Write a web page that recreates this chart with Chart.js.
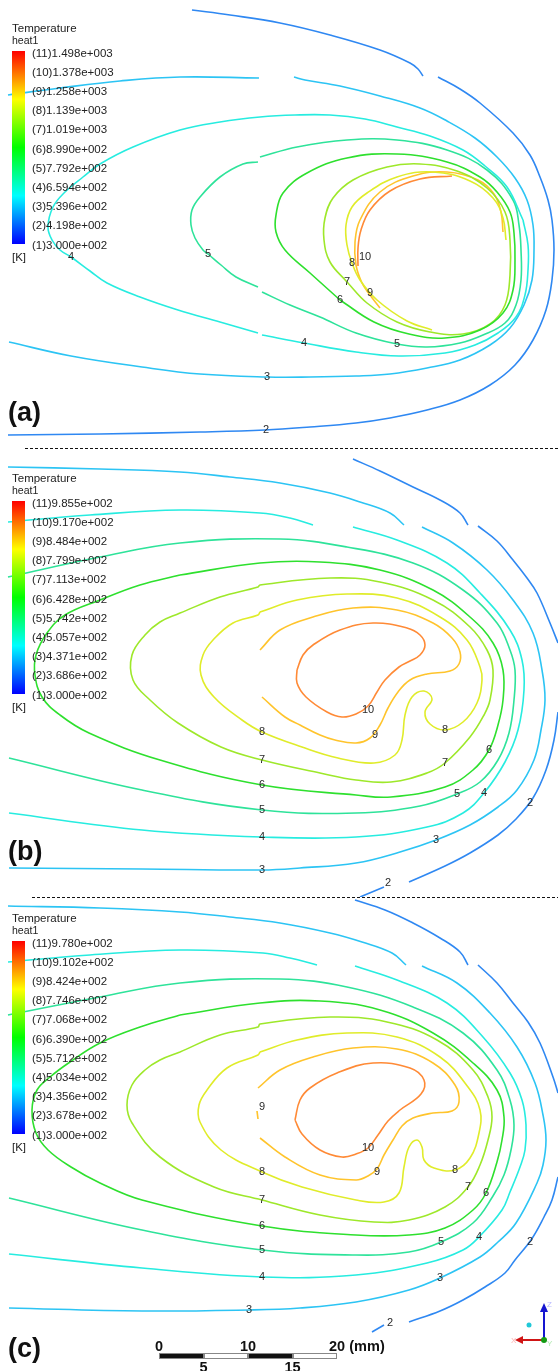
<!DOCTYPE html>
<html>
<head>
<meta charset="utf-8">
<script src="https://cdn.jsdelivr.net/npm/chart.js@4.4.1/dist/chart.umd.min.js"></script>
<style>
  body { margin: 0; background: #fff; }
  #page { position: relative; width: 558px; height: 1371px; overflow: hidden; font-family: "Liberation Sans", Arial, sans-serif; }
  canvas { position: absolute; left: 0; }
  .legend { position: absolute; left: 0; width: 180px; height: 270px; color: #222; }
  .legend div { position: absolute; white-space: nowrap; }
  .legend .t { left: 12px; top: 22px; font-size: 11.5px; line-height: 13px; }
  .legend .h { left: 12px; top: 34px; font-size: 10.5px; line-height: 12px; }
  .legend .bar { left: 12px; top: 51px; width: 13px; height: 193px;
    background: linear-gradient(to bottom, hsl(0,100%,50%), hsl(30,100%,50%), hsl(60,100%,50%), hsl(90,100%,50%), hsl(120,100%,50%), hsl(150,100%,50%), hsl(180,100%,50%), hsl(210,100%,50%), hsl(240,100%,50%)); }
  .legend .v { left: 32px; font-size: 11.5px; line-height: 13px; }
  .legend .k { left: 12px; top: 251px; font-size: 11.5px; line-height: 13px; }
  .tag { position: absolute; left: 8px; font-weight: bold; font-size: 27px; line-height: 28px; color: #111; }
  .sep { position: absolute; height: 1px; background: repeating-linear-gradient(to right, #111 0 3px, transparent 3px 5px); }
  .sb { position: absolute; font-weight: bold; font-size: 14.5px; line-height: 16px; color: #111; transform: translateX(-50%); }
</style>
</head>
<body>
<div id="page">
  <canvas id="ca" width="558" height="447" style="top:0px"></canvas>
  <canvas id="cb" width="558" height="450" style="top:447px"></canvas>
  <canvas id="cc" width="558" height="474" style="top:897px"></canvas>
</div>
<script>
// contour line colours per level (rainbow map, 2 = blue ... 10 = orange)
const lineColors = { 2: "#2f88f2", 3: "#2cc4f4", 4: "#27ece0", 5: "#2ee39a", 6: "#2ee02e", 7: "#9ee82a", 8: "#e0ec2a", 9: "#ffc42c", 10: "#ff8a36" };

// legend values [K], top (11) to bottom (1)
const legendA = ["1.498e+003", "1.378e+003", "1.258e+003", "1.139e+003", "1.019e+003", "8.990e+002", "7.792e+002", "6.594e+002", "5.396e+002", "4.198e+002", "3.000e+002"];
const legendB = ["9.855e+002", "9.170e+002", "8.484e+002", "7.799e+002", "7.113e+002", "6.428e+002", "5.742e+002", "5.057e+002", "4.371e+002", "3.686e+002", "3.000e+002"];
const legendC = ["9.780e+002", "9.102e+002", "8.424e+002", "7.746e+002", "7.068e+002", "6.390e+002", "5.712e+002", "5.034e+002", "4.356e+002", "3.678e+002", "3.000e+002"];

// contour lines, one array per level, each entry a segment of x,y pairs (page frame)
// panel (a)
const a2 = [
  [192,10, 230,15, 280,23, 330,35, 380,50, 410,63, 418,69, 423,76],
  [438,77, 460,89, 480,103, 513,133, 530,155, 540,177, 548,200, 552,220, 554,250, 552,280, 546,310, 533,340, 515,365, 490,385, 460,400, 427,410, 390,418, 356,423, 310,427, 265,430, 200,432, 100,434, 8,435]
];
const a3 = [
  [8,95, 60,88, 120,81, 180,77, 259,78],
  [294,77, 305,80, 340,86, 380,96, 420,108, 447,121, 475,138, 497,157, 515,178, 527,200, 533,225, 534,250, 532,280, 524,305, 510,328, 490,345, 460,360, 427,368, 390,374, 356,376, 310,377, 267,377, 200,374, 142,367, 71,356, 9,342]
];
const a4 = [
  [523,220, 507,187, 485,166, 463,150, 430,136, 397,127, 365,119, 330,115, 295,115, 260,117, 220,122, 180,130, 133,147, 100,164, 83,177, 65,192, 53,207, 48,227, 52,240, 60,250, 71,257, 90,271, 107,283, 140,297, 178,310, 220,322, 258,333],
  [262,335, 304,343, 356,352, 399,356, 445,353, 475,345, 498,333, 516,317, 525,295, 528,270, 528,245, 523,220]
];
const a5 = [
  [258,162, 243,164, 220,177, 200,197, 192,210, 191,225, 195,238, 203,250, 208,254, 221,265, 236,277, 258,287],
  [262,292, 290,305, 320,317, 356,333, 397,344, 427,347, 460,343, 483,335, 505,323, 516,305, 521,280, 521,250, 519,225, 513,200, 487,170, 447,150, 397,140, 347,140, 297,147, 260,157]
];
const a6 = [
  [340,300, 374,322, 409,334, 445,338, 480,330, 503,313, 513,290, 515,260, 514,233, 510,212, 497,192, 480,177, 447,162, 397,154, 347,158, 307,173, 283,193, 276,215, 276,232, 285,250, 310,273, 340,300]
];
const a7 = [
  [347,282, 367,303, 397,322, 430,332, 463,334, 490,324, 505,305, 510,275, 510,240, 505,212, 487,188, 457,171, 420,164, 387,167, 353,180, 333,198, 325,218, 324,240, 330,262, 347,282]
];
const a8 = [
  [432,330, 407,321, 377,300, 360,280, 352,263, 347,245, 346,225, 352,207, 367,193, 397,177, 433,172, 470,181, 493,198, 503,218, 506,240]
];
const a9 = [
  [380,308, 370,295, 362,283, 356,265, 355,242, 360,220, 380,192, 413,176, 447,172, 478,180, 494,194, 501,212, 503,232]
];
const a10 = [
  [358,266, 358,248, 361,230, 370,210, 390,191, 420,179, 452,176]
];

// panel (b)
const b2 = [
  [353,459, 380,471, 413,487, 440,500, 460,513, 468,525],
  [478,526, 497,541, 513,560, 527,578, 537,593, 550,623, 558,643],
  [558,712, 554,740, 546,770, 533,798, 515,820, 498,835, 470,853, 445,866, 409,882],
  [384,887, 360,897]
];
const b3 = [
  [8,467, 100,469, 180,472, 230,477, 280,483, 330,493, 360,502, 390,513, 404,525],
  [422,527, 453,543, 487,570, 513,600, 533,633, 542,670, 545,700, 541,730, 534,760, 517,790, 498,807, 470,825, 436,840, 400,852, 356,863, 300,868, 262,870, 142,869, 9,868]
];
const b4 = [
  [8,522, 90,515, 180,510, 260,513, 290,518, 313,525],
  [353,527, 397,540, 447,563, 480,593, 510,630, 522,660, 524,690, 518,730, 505,762, 484,793, 463,813, 427,827, 356,837, 262,837, 142,830, 9,813]
];
const b5 = [
  [8,577, 100,557, 180,543, 280,539, 347,547, 413,563, 463,590, 497,623, 510,650, 515,670, 514,700, 509,733, 498,760, 480,782, 457,794, 420,806, 356,813, 262,810, 142,790, 9,758]
];
const b6 = [
  [180,575, 260,563, 320,562, 380,570, 433,590, 470,617, 493,643, 503,670, 503,700, 498,725, 489,750, 473,770, 445,787, 391,797, 356,795, 262,785, 160,760, 89,733, 60,715, 42,697, 35,675, 36,655, 47,633, 65,615, 100,600, 140,585, 180,575]
];
const b7 = [
  [180,613, 220,597, 258,587, 260,585, 330,578, 380,582, 433,600, 470,627, 487,650, 493,670, 490,700, 484,715, 470,737, 445,763, 427,773, 391,782, 356,780, 320,773, 262,760, 221,747, 178,723, 150,700, 133,680, 132,655, 145,635, 160,622, 180,613]
];
const b8 = [
  [260,612, 297,600, 347,594, 397,598, 440,617, 467,640, 480,667, 482,680, 477,703, 463,722, 445,730, 430,724, 425,712, 432,699, 424,691, 412,697, 405,715, 402,740, 395,755, 374,763, 338,758, 302,747, 262,732, 242,720, 214,697, 201,675, 203,655, 213,640, 233,623, 258,615, 260,612]
];
const b9 = [
  [260,650, 280,630, 313,617, 353,608, 397,610, 433,623, 452,638, 460,652, 459,664, 450,671, 427,674, 410,680, 398,692, 388,708, 380,725, 370,738, 356,743, 335,740, 320,735, 300,725, 285,717, 262,697]
];
const b10 = [
  [297,670, 303,655, 313,645, 340,630, 373,623, 407,628, 420,635, 425,645, 420,655, 410,661, 399,667, 385,680, 377,692, 368,706, 356,714, 342,717, 327,712, 306,697, 297,683, 297,670]
];

// panel (c)
const c2 = [
  [355,900, 385,910, 413,923, 440,938, 460,952, 468,965],
  [478,965, 497,983, 513,1003, 528,1022, 540,1043, 553,1077, 558,1093],
  [558,1177, 552,1200, 544,1217, 531,1240, 515,1260, 505,1273, 485,1287, 463,1300, 440,1311, 409,1322],
  [384,1325, 372,1332]
];
const c3 = [
  [8,906, 100,908, 180,912, 230,917, 280,923, 330,933, 362,942, 392,953, 406,965],
  [422,966, 457,983, 490,1013, 517,1047, 535,1083, 543,1115, 546,1140, 543,1165, 537,1183, 516,1223, 498,1242, 480,1257, 440,1278, 409,1290, 356,1302, 300,1308, 249,1310, 142,1311, 9,1308]
];
const c4 = [
  [8,962, 90,955, 180,950, 263,953, 290,958, 317,965],
  [355,966, 397,980, 447,1003, 483,1037, 510,1073, 522,1100, 526,1125, 525,1150, 520,1167, 510,1192, 502,1210, 479,1237, 463,1250, 427,1263, 356,1275, 262,1277, 142,1268, 9,1254]
];
const c5 = [
  [8,1015, 100,997, 180,983, 280,979, 347,987, 413,1007, 463,1033, 497,1070, 510,1100, 514,1125, 511,1150, 504,1175, 493,1196, 473,1223, 441,1242, 409,1252, 356,1255, 262,1250, 142,1230, 9,1198]
];
const c6 = [
  [180,1015, 260,1003, 320,1001, 380,1010, 433,1033, 473,1063, 497,1090, 504,1117, 502,1140, 497,1162, 486,1193, 473,1210, 445,1228, 409,1235, 356,1235, 262,1226, 142,1200, 100,1183, 71,1167, 48,1150, 36,1133, 32,1110, 37,1090, 50,1077, 70,1062, 100,1043, 140,1027, 180,1015]
];
const c7 = [
  [180,1052, 220,1035, 258,1027, 260,1024, 330,1017, 387,1022, 437,1040, 473,1070, 488,1097, 492,1117, 488,1140, 480,1165, 468,1187, 445,1207, 409,1220, 374,1222, 320,1215, 262,1200, 214,1187, 160,1157, 132,1123, 127,1105, 132,1085, 145,1070, 160,1060, 180,1052]
];
const c8 = [
  [260,1052, 297,1040, 347,1033, 397,1037, 440,1057, 468,1087, 480,1110, 479,1133, 470,1158, 455,1170, 434,1168, 424,1160, 422,1147, 417,1140, 409,1147, 404,1167, 399,1193, 384,1202, 356,1200, 302,1187, 262,1172, 221,1150, 200,1122, 199,1105, 207,1090, 227,1068, 258,1055, 260,1052]
];
const c9 = [
  [258,1088, 280,1070, 313,1057, 353,1048, 397,1049, 433,1063, 455,1085, 459,1102, 452,1111, 433,1113, 413,1118, 402,1126, 393,1140, 384,1155, 377,1169, 368,1176, 356,1180, 320,1175, 285,1157, 260,1138],
  [257,1111, 258,1119]
];
const c10 = [
  [295,1120, 300,1100, 310,1088, 337,1073, 373,1063, 410,1068, 424,1080, 421,1094, 400,1110, 388,1121, 378,1135, 368,1148, 356,1154, 342,1157, 320,1150, 302,1134, 295,1120]
];

// in-line contour labels: [text, x, y]
const labelsA = [["10",365,257],["8",352,263],["7",347,282],["9",370,293],["6",340,300],["5",208,254],["4",71,257],["4",304,343],["5",397,344],["3",267,377],["2",266,430]];
const labelsB = [["10",368,710],["8",262,732],["9",375,735],["8",445,730],["7",262,760],["7",445,763],["6",262,785],["6",489,750],["5",262,810],["5",457,794],["4",262,837],["4",484,793],["2",530,803],["3",436,840],["3",262,870],["2",388,883]];
const labelsC = [["9",262,1107],["10",368,1148],["8",262,1172],["9",377,1172],["8",455,1170],["7",262,1200],["7",468,1187],["6",262,1226],["6",486,1193],["5",262,1250],["5",441,1242],["4",262,1277],["4",479,1237],["2",530,1242],["3",249,1310],["3",440,1278],["2",390,1323]];

const panelA = {2: a2, 3: a3, 4: a4, 5: a5, 6: a6, 7: a7, 8: a8, 9: a9, 10: a10};
const panelB = {2: b2, 3: b3, 4: b4, 5: b5, 6: b6, 7: b7, 8: b8, 9: b9, 10: b10};
const panelC = {2: c2, 3: c3, 4: c4, 5: c5, 6: c6, 7: c7, 8: c8, 9: c9, 10: c10};

const contourLabels = {
  id: "contourLabels",
  afterDatasetsDraw(chart, args, opts) {
    const { ctx, scales: { x, y } } = chart;
    ctx.save();
    ctx.font = '11px "Liberation Sans", Arial, sans-serif';
    ctx.fillStyle = "#2a2a2a";
    ctx.textAlign = "center";
    ctx.textBaseline = "middle";
    opts.items.forEach(([t, px, py]) => ctx.fillText(t, x.getPixelForValue(px), y.getPixelForValue(py)));
    ctx.restore();
  }
};

function makeDatasets(panel) {
  const sets = [];
  Object.keys(panel).forEach(lvl => {
    panel[lvl].forEach(seg => {
      const pts = [];
      for (let i = 0; i < seg.length; i += 2) pts.push({ x: seg[i], y: seg[i + 1] });
      sets.push({
        label: "level " + lvl,
        data: pts,
        showLine: true,
        borderColor: lineColors[lvl],
        borderWidth: 1.6,
        pointRadius: 0,
        tension: 0.4,
        fill: false
      });
    });
  });
  return sets;
}

function drawPanel(id, panel, labels, yMin, yMax) {
  new Chart(document.getElementById(id), {
    type: "scatter",
    data: { datasets: makeDatasets(panel) },
    options: {
      responsive: false,
      animation: false,
      layout: { padding: 0 },
      scales: {
        x: { type: "linear", min: 0, max: 558, display: false },
        y: { type: "linear", min: yMin, max: yMax, reverse: true, display: false }
      },
      plugins: {
        legend: { display: false },
        tooltip: { enabled: false },
        contourLabels: { items: labels }
      }
    },
    plugins: [contourLabels]
  });
}

drawPanel("ca", panelA, labelsA, 0, 447);
drawPanel("cb", panelB, labelsB, 447, 897);
drawPanel("cc", panelC, labelsC, 897, 1371);

// colour legends, panel tags, separators, scale bar
const page = document.getElementById("page");
function addLegend(top, values) {
  const box = document.createElement("div");
  box.className = "legend";
  box.style.top = top + "px";
  let html = '<div class="t">Temperature</div><div class="h">heat1</div><div class="bar"></div>';
  values.forEach((v, i) => {
    html += `<div class="v" style="top:${46.5 + i * 19.2}px">(${11 - i})${v}</div>`;
  });
  html += '<div class="k">[K]</div>';
  box.innerHTML = html;
  page.appendChild(box);
}
addLegend(0, legendA);
addLegend(450, legendB);
addLegend(890, legendC);

[["(a)", 398], ["(b)", 837], ["(c)", 1334]].forEach(([t, top]) => {
  const d = document.createElement("div");
  d.className = "tag"; d.style.top = top + "px"; d.textContent = t;
  page.appendChild(d);
});
[[25, 448], [32, 897]].forEach(([left, top]) => {
  const d = document.createElement("div");
  d.className = "sep"; d.style.left = left + "px"; d.style.top = top + "px"; d.style.width = (558 - left) + "px";
  page.appendChild(d);
});

// scale bar (mm)
const barTicks = ["0", "5", "10", "15", "20"];
const barX = [159, 203.5, 248, 292.5, 337];
for (let i = 0; i < 4; i++) {
  const s = document.createElement("div");
  s.style.cssText = `position:absolute;left:${barX[i]}px;top:1353px;width:${barX[i + 1] - barX[i]}px;height:6px;box-sizing:border-box;border:1px solid #888;background:${i % 2 ? "#fff" : "#111"}`;
  page.appendChild(s);
}
barTicks.forEach((t, i) => {
  const d = document.createElement("div");
  d.className = "sb"; d.textContent = t;
  d.style.left = barX[i] + "px";
  d.style.top = (i % 2 ? 1359 : 1338) + "px";
  page.appendChild(d);
});
const mm = document.createElement("div");
mm.className = "sb"; mm.textContent = "(mm)";
mm.style.left = "367px"; mm.style.top = "1338px";
page.appendChild(mm);

// axis triad
page.insertAdjacentHTML("beforeend", `
<svg style="position:absolute;left:505px;top:1298px" width="53" height="50">
  <line x1="39" y1="42" x2="39" y2="12" stroke="#1515d0" stroke-width="2"/>
  <polygon points="35,14 43,14 39,5" fill="#1515d0"/>
  <line x1="39" y1="42" x2="16" y2="42" stroke="#d01515" stroke-width="2"/>
  <polygon points="18,38 18,46 10,42" fill="#d01515"/>
  <circle cx="39" cy="42" r="3" fill="#139a13"/>
  <circle cx="24" cy="27" r="2.5" fill="#20c8d8"/>
  <text x="42" y="9" font-size="8" fill="#b8b8ff" font-family="Liberation Sans">Z</text>
  <text x="6" y="45" font-size="8" fill="#ffb0b0" font-family="Liberation Sans">X</text>
  <text x="42" y="48" font-size="8" fill="#b0e8b0" font-family="Liberation Sans">Y</text>
</svg>`);
</script>
</body>
</html>
